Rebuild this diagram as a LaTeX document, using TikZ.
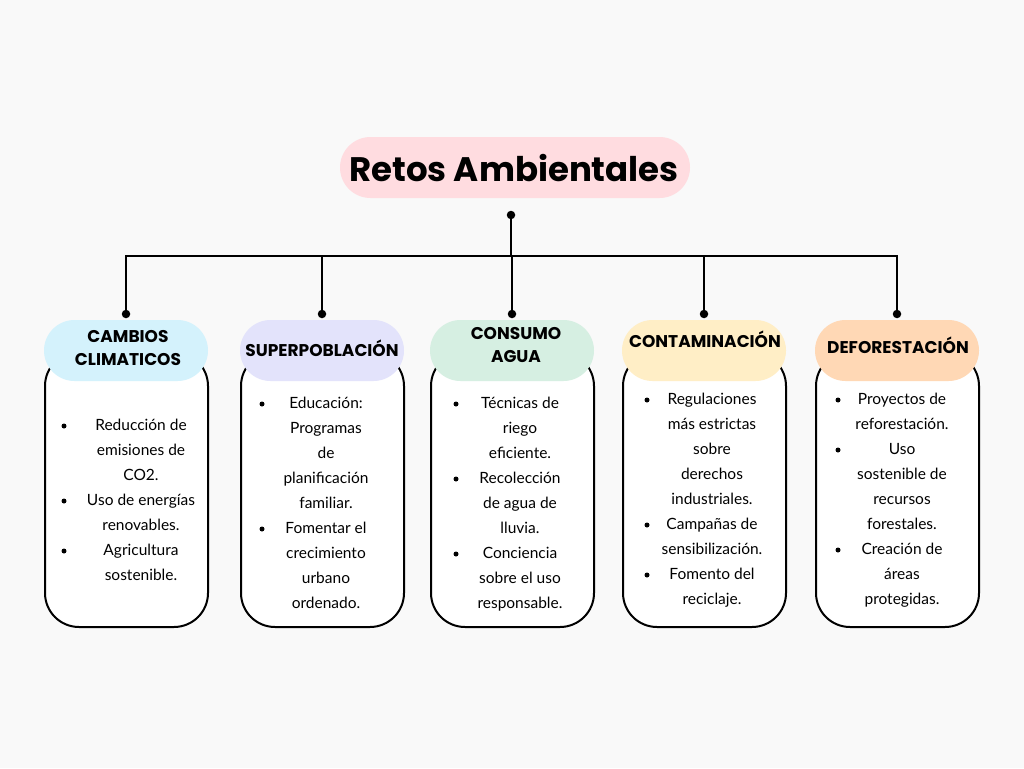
\documentclass[tikz,border=0pt]{standalone}
\usepackage{fontspec}
\setmainfont{Lato}
\newfontfamily\headfont{Poppins}
\definecolor{paper}{HTML}{F9F9F9}
\definecolor{pinkfill}{HTML}{FFDCE0}
\definecolor{cyanfill}{HTML}{D4F2FC}
\definecolor{lavfill}{HTML}{E3E3FB}
\definecolor{mintfill}{HTML}{D6EFE2}
\definecolor{yelfill}{HTML}{FFEEC6}
\definecolor{peachfill}{HTML}{FFD8B5}
\newcommand\bodycol[4]{%
  \foreach \t [count=\i] in {#4}
    \node[bodytxt] (#1l\i) at ({#2},{#3+25*(\i-1)}) {\t};}
\newcommand\bullets[4]{%
  \foreach \k in {#4}
    \node[bul] (#1b\k) at ({#2},{#3-2+25*(\k-1)}) {};}
\begin{document}
\begin{tikzpicture}[x=1pt,y=-1pt,
  pill/.style={rounded corners=30.5pt,minimum width=164pt,minimum height=61pt,inner sep=0pt,draw=none},
  card/.style={draw=black,line width=2pt,fill=white,rounded corners=34pt},
  conn/.style={draw=black,line width=2.2pt},
  dot/.style={circle,fill=black,inner sep=0pt,minimum size=8.5pt},
  bul/.style={circle,fill=black,inner sep=0pt,minimum size=5pt},
  headtxt/.style={font=\headfont\fontsize{17}{23}\selectfont\bfseries,align=center,inner sep=0pt},
  bodytxt/.style={font=\fontsize{15.5}{17}\selectfont,anchor=mid,inner sep=0pt},
]
\fill[paper] (0,0) rectangle (1024,768);
\useasboundingbox (0,0) rectangle (1024,768);

% title
\node[pill,fill=pinkfill,minimum width=350pt,minimum height=61pt] (title) at (515,167.5) {};
\node[font=\headfont\fontsize{34}{40}\selectfont\bfseries,inner sep=0pt] (titletxt) at (514,168) {Retos Ambientales};

% cards behind the headers
\draw[card] (45,352) rectangle (208,627);
\draw[card] (241,352) rectangle (404,627);
\draw[card] (431,352) rectangle (594,627);
\draw[card] (623,352) rectangle (786,627);
\draw[card] (816,352) rectangle (979,627);

% headers
\node[pill,fill=cyanfill]  (h1) at (126,350.5) {};
\node[pill,fill=lavfill]   (h2) at (322,350.5) {};
\node[pill,fill=mintfill]  (h3) at (512,350.5) {};
\node[pill,fill=yelfill]   (h4) at (704,350.5) {};
\node[pill,fill=peachfill] (h5) at (897,350.5) {};
\node[headtxt] (h1t) at (128,348.5) {CAMBIOS\\CLIMATICOS};
\node[headtxt] (h2t) at (322,348) {SUPERPOBLACIÓN};
\node[headtxt] (h3t) at (516,345.5) {CONSUMO\\AGUA};
\node[headtxt] (h4t) at (705,339) {CONTAMINACIÓN};
\node[headtxt] (h5t) at (898,345) {DEFORESTACIÓN};

% connectors
\coordinate (bar) at (0,256);
\node[dot] (tj) at (511,215) {};
\node[dot] (d1) at (126,314) {};
\node[dot] (d2) at (322,314) {};
\node[dot] (d3) at (512,314) {};
\node[dot] (d4) at (704,314) {};
\node[dot] (d5) at (897,314) {};
\foreach \n in {d1,d2,d3,d4,d5}
  \draw[conn] (tj.center) -- (tj.center|-bar) -| (\n.center);

% card contents
\bodycol{c1}{141}{428}{Reducción de,emisiones de,CO2.,Uso de energías,renovables.,Agricultura,sostenible.}
\bullets{c1}{64}{428}{1,4,6}
\bodycol{c2}{326}{406}{Educación:,Programas,de,planificación,familiar.,Fomentar el,crecimiento,urbano,ordenado.}
\bullets{c2}{262}{406}{1,6}
\bodycol{c3}{520}{406}{Técnicas de,riego,eficiente.,Recolección,de agua de,lluvia.,Conciencia,sobre el uso,responsable.}
\bullets{c3}{456}{406}{1,4,7}
\bodycol{c4}{712}{402}{Regulaciones,más estrictas,sobre,derechos,industriales.,Campañas de,sensibilización.,Fomento del,reciclaje.}
\bullets{c4}{647}{402}{1,6,8}
\bodycol{c5}{902}{402}{Proyectos de,reforestación.,Uso,sostenible de,recursos,forestales.,Creación de,áreas,protegidas.}
\bullets{c5}{838}{402}{1,3,7}
\end{tikzpicture}
\end{document}
